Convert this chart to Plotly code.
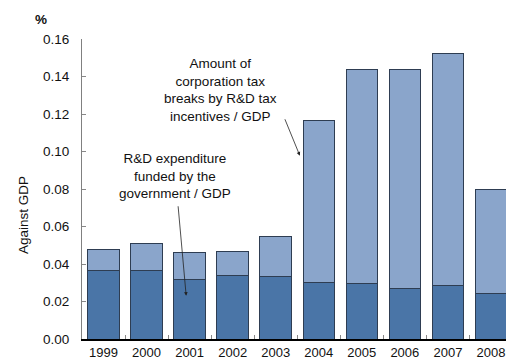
import plotly.graph_objects as go

# Fiscal years shown on the category axis
years = ["1999", "2000", "2001", "2002", "2003", "2004", "2005", "2006", "2007", "2008"]

# R&D expenditure funded by the government, % of GDP (lower segment)
gov_rd = [0.0368, 0.0364, 0.0315, 0.0341, 0.0331, 0.0299, 0.0294, 0.0267, 0.0288, 0.0242]

# Total height of each stacked bar, % of GDP
total = [0.0476, 0.0508, 0.0459, 0.0469, 0.0547, 0.1163, 0.1438, 0.1435, 0.1525, 0.0800]

# Corporation tax breaks from R&D tax incentives (upper segment)
tax_breaks = [t - g for t, g in zip(total, gov_rd)]

FONT = "Liberation Sans, Arial, sans-serif"
SIZE = 13.5
DARK = "#4a75a7"
LIGHT = "#8aa5cb"
EDGE = "#2e3d52"

fig = go.Figure()
fig.add_trace(go.Bar(
    x=years, y=gov_rd, marker=dict(color=DARK, line=dict(color=EDGE, width=1)),
    width=0.73, name="R&D expenditure funded by the government / GDP",
))
fig.add_trace(go.Bar(
    x=years, y=tax_breaks, marker=dict(color=LIGHT, line=dict(color=EDGE, width=1)),
    width=0.73, name="Corporation tax breaks by R&D tax incentives / GDP",
))

fig.update_layout(
    barmode="stack",
    width=506, height=361,
    margin=dict(l=82, r=0, t=39, b=22),
    paper_bgcolor="white", plot_bgcolor="white",
    showlegend=False,
    font=dict(family=FONT, size=SIZE, color="#111111"),
    xaxis=dict(
        type="category", range=[-0.5, 9.35], automargin=False,
        showline=True, linecolor="black", linewidth=1.5,
        ticks="inside", tickson="boundaries", ticklen=4, tickcolor="#888888",
        tickfont=dict(family=FONT, size=13), showgrid=False,
        ticklabelstandoff=1,
    ),
    yaxis=dict(
        range=[0, 0.16], dtick=0.02, tickformat=".2f", automargin=False,
        showline=True, linecolor="#808080", linewidth=1,
        ticks="inside", ticklen=4, tickcolor="#888888",
        tickfont=dict(family=FONT, size=SIZE), showgrid=False, zeroline=False,
        ticklabelstandoff=9,
    ),
)

# Value-axis title, placed a little below the plot's mid-height
fig.add_annotation(text="Against GDP", xref="paper", yref="paper", x=-59 / 424, y=0.413,
                   textangle=-90, showarrow=False, font=dict(family=FONT, size=SIZE),
                   xanchor="center", yanchor="middle")

# Unit label above the value axis
fig.add_annotation(text="<b>%</b>", xref="paper", yref="paper", x=-41 / 424, y=1 + 20 / 300,
                   showarrow=False, font=dict(family=FONT, size=SIZE), xanchor="center", yanchor="middle")

# Callout for the upper (tax break) segment
fig.add_annotation(
    text="Amount of<br>corporation tax<br>breaks by R&D tax<br>incentives / GDP",
    x=2.72, y=0.1329, xref="x", yref="y", showarrow=False,
    font=dict(family=FONT, size=SIZE), align="center",
)
fig.add_annotation(
    x=4.56, y=0.0978, ax=4.2, ay=0.118, xref="x", yref="y", axref="x", ayref="y",
    text="", showarrow=True, arrowhead=2, arrowsize=0.9, arrowwidth=0.8, arrowcolor="#222222",
)

# Callout for the lower (government funded) segment
fig.add_annotation(
    text="R&D expenditure<br>funded by the<br>government / GDP",
    x=1.67, y=0.0869, xref="x", yref="y", showarrow=False,
    font=dict(family=FONT, size=SIZE), align="center",
)
fig.add_annotation(
    x=1.92, y=0.0231, ax=1.73, ay=0.0716, xref="x", yref="y", axref="x", ayref="y",
    text="", showarrow=True, arrowhead=2, arrowsize=0.9, arrowwidth=0.8, arrowcolor="#222222",
)

fig.write_html("out.html")
